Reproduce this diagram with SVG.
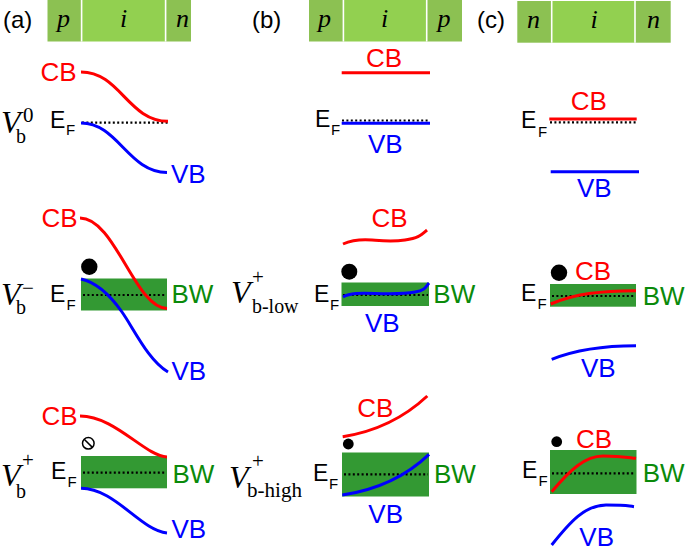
<svg xmlns="http://www.w3.org/2000/svg" width="685" height="548" viewBox="0 0 685 548">
<style>
.lab{font-family:"Liberation Sans",Arial,sans-serif;font-size:26px}
.cb{fill:#ff0000}.vb{fill:#0000ff}.bw{fill:#0a8a0a}
.e{font-family:"Liberation Sans",Arial,sans-serif;font-size:23px;fill:#000}
.f{font-family:"Liberation Sans",Arial,sans-serif;font-size:15px;fill:#000}
.pl{font-family:"Liberation Sans",Arial,sans-serif;font-size:24px;fill:#000}
.seg{font-family:"Liberation Serif","Times New Roman",serif;font-style:italic;font-size:26px;fill:#000;text-anchor:middle}
.v{font-family:"Liberation Serif","Times New Roman",serif;font-style:italic;font-size:32px;fill:#000}
.sub{font-family:"Liberation Serif","Times New Roman",serif;font-size:20px;fill:#000}
.sup{font-family:"Liberation Serif","Times New Roman",serif;font-size:21px;fill:#000}
.pn{fill:#8cc152}.ii{fill:#92d050}
.div{stroke:#fff;stroke-width:1.6}
.red{fill:none;stroke:#ff0000;stroke-width:3}
.blue{fill:none;stroke:#0000ff;stroke-width:3}
.dot{fill:none;stroke:#000;stroke-width:2.2;stroke-dasharray:2 2.4}
.well{fill:#339933}
</style>

<g id="bar-a">
<rect class="pn" x="47.5" y="0" width="34" height="41.5"/>
<rect class="ii" x="81.5" y="0" width="84" height="41.5"/>
<rect class="pn" x="165.5" y="0" width="25.5" height="41.5"/>
<line class="div" x1="81.6" y1="0" x2="81.6" y2="41.5"/>
<line class="div" x1="165.6" y1="0" x2="165.6" y2="41.5"/>
<text class="seg" x="63.5" y="27">p</text>
<text class="seg" x="123.5" y="27">i</text>
<text class="seg" x="182.5" y="27">n</text>
<text class="pl" x="3" y="28">(a)</text>
</g>

<g id="bar-b">
<rect class="pn" x="309" y="0" width="34.5" height="41.5"/>
<rect class="ii" x="343.5" y="0" width="83.2" height="41.5"/>
<rect class="pn" x="426.7" y="0" width="35.3" height="41.5"/>
<line class="div" x1="343.4" y1="0" x2="343.4" y2="41.5"/>
<line class="div" x1="426.7" y1="0" x2="426.7" y2="41.5"/>
<text class="seg" x="324.5" y="27">p</text>
<text class="seg" x="384.5" y="27">i</text>
<text class="seg" x="444" y="27">p</text>
<text class="pl" x="252" y="28">(b)</text>
</g>

<g id="bar-c">
<rect class="pn" x="517.3" y="1" width="34.4" height="41.7"/>
<rect class="ii" x="551.7" y="1" width="83.3" height="41.7"/>
<rect class="pn" x="635" y="1" width="35.7" height="41.7"/>
<line class="div" x1="551.7" y1="1" x2="551.7" y2="42.7"/>
<line class="div" x1="635" y1="1" x2="635" y2="42.7"/>
<text class="seg" x="533.5" y="28">n</text>
<text class="seg" x="594" y="28">i</text>
<text class="seg" x="653.5" y="28">n</text>
<text class="pl" x="477" y="28">(c)</text>
</g>

<g id="bias-labels">
<text class="v" x="1" y="133">V</text>
<text class="sup" x="23" y="121.5">0</text>
<text class="sub" x="16" y="143">b</text>
<text class="v" x="1" y="305">V</text>
<text class="sup" x="22" y="295">−</text>
<text class="sub" x="16" y="314">b</text>
<text class="v" x="1" y="486">V</text>
<text class="sup" x="22" y="466.5">+</text>
<text class="sub" x="16" y="498">b</text>
<text class="v" x="231" y="303">V</text>
<text class="sup" x="252" y="283.5">+</text>
<text class="sub" x="252" y="313" textLength="46.5" lengthAdjust="spacingAndGlyphs">b-low</text>
<text class="v" x="229" y="488">V</text>
<text class="sup" x="252" y="467.5">+</text>
<text class="sub" x="247" y="497" textLength="55" lengthAdjust="spacingAndGlyphs">b-high</text>
</g>

<g id="a1">
<line class="dot" x1="82" y1="122.7" x2="168" y2="122.7"/>
<path class="red" d="M81,72 C120,72 128,121 168,121.3"/>
<path class="blue" d="M81,123 C118,123 128,172 167,172.5"/>
<text class="lab cb" x="40.5" y="81">CB</text>
<text class="lab vb" x="171" y="183">VB</text>
<text class="e" x="50" y="128">E</text><text class="f" x="66" y="135">F</text>
</g>

<g id="a2">
<rect class="well" x="81" y="278.5" width="86" height="32"/>
<line class="dot" x1="83" y1="295" x2="166" y2="295"/>
<path class="red" d="M80,218 C115,218 135,308 167,308.5"/>
<path class="blue" d="M81,279 C95,282 110,295 122,312 S148,360 168,372"/>
<circle cx="89.3" cy="266.7" r="8.2" fill="#000"/>
<text class="lab cb" x="41.5" y="227">CB</text>
<text class="lab vb" x="171.5" y="380">VB</text>
<text class="lab bw" x="171.5" y="303">BW</text>
<text class="e" x="50" y="302">E</text><text class="f" x="66.5" y="310">F</text>
</g>

<g id="a3">
<rect class="well" x="81" y="456" width="86" height="32.3"/>
<line class="dot" x1="83" y1="472.7" x2="166" y2="472.7"/>
<path class="red" d="M80,416 C115,416 145,456 167,457"/>
<path class="blue" d="M81,488.3 C115,488.3 140,530 167,533"/>
<circle cx="88.3" cy="443.3" r="5.8" fill="none" stroke="#000" stroke-width="1.5"/>
<line x1="84.2" y1="439.2" x2="92.4" y2="447.4" stroke="#000" stroke-width="1.5"/>
<text class="lab cb" x="41.5" y="425">CB</text>
<text class="lab vb" x="171.5" y="538">VB</text>
<text class="lab bw" x="172.5" y="482.5">BW</text>
<text class="e" x="51" y="479">E</text><text class="f" x="67.5" y="487">F</text>
</g>

<g id="b1">
<line class="red" x1="341.7" y1="72.7" x2="430" y2="72.7"/>
<line class="dot" x1="342" y1="120.5" x2="430" y2="120.5"/>
<line class="blue" x1="341.7" y1="123.3" x2="430" y2="123.3"/>
<text class="lab cb" x="366" y="67">CB</text>
<text class="lab vb" x="368" y="153">VB</text>
<text class="e" x="315" y="127">E</text><text class="f" x="331" y="135">F</text>
</g>

<g id="b2">
<rect class="well" x="341.5" y="282.5" width="87.5" height="23.5"/>
<line class="dot" x1="343" y1="295" x2="428" y2="295"/>
<path class="red" d="M343,244 C352,240 360,239 372,240 S392,242 405,240 S420,236 427,230"/>
<path class="blue" d="M343,297 C350,293 360,293 375,293.5 S405,294 415,292 S425,288 429,283"/>
<circle cx="349.3" cy="271.7" r="8" fill="#000"/>
<text class="lab cb" x="371.5" y="227.3">CB</text>
<text class="lab vb" x="365" y="331.7">VB</text>
<text class="lab bw" x="433.3" y="303.3">BW</text>
<text class="e" x="314" y="302">E</text><text class="f" x="330" y="310">F</text>
</g>

<g id="b3">
<rect class="well" x="342" y="452.5" width="87" height="44"/>
<line class="dot" x1="344" y1="474.3" x2="428" y2="474.3"/>
<path class="red" d="M342.7,436.7 Q392,429 427.3,396"/>
<path class="blue" d="M342.3,495 Q395,487 429,454.3"/>
<circle cx="348.3" cy="444" r="5.4" fill="#000"/>
<text class="lab cb" x="357.3" y="417.3">CB</text>
<text class="lab vb" x="368.3" y="522.7">VB</text>
<text class="lab bw" x="434" y="482.7">BW</text>
<text class="e" x="313" y="481">E</text><text class="f" x="329" y="489">F</text>
</g>

<g id="c1">
<line class="dot" x1="550" y1="122.3" x2="636" y2="122.3"/>
<line class="red" x1="549.3" y1="119" x2="636.7" y2="119"/>
<line class="blue" x1="550.7" y1="171.7" x2="639" y2="171.7"/>
<text class="lab cb" x="570.7" y="110">CB</text>
<text class="lab vb" x="577" y="196.5">VB</text>
<text class="e" x="521" y="128">E</text><text class="f" x="538" y="137">F</text>
</g>

<g id="c2">
<rect class="well" x="550" y="284" width="86" height="22.7"/>
<line class="dot" x1="552" y1="296" x2="635" y2="296"/>
<path class="red" d="M550.7,304 C575,294 600,290.7 636,290.7"/>
<path class="blue" d="M551.7,359.3 C575,350 600,345.7 636,345.7"/>
<circle cx="559" cy="272.7" r="8.2" fill="#000"/>
<text class="lab cb" x="575" y="280">CB</text>
<text class="lab vb" x="581" y="377">VB</text>
<text class="lab bw" x="642.7" y="305">BW</text>
<text class="e" x="521" y="301">E</text><text class="f" x="537.5" y="309">F</text>
</g>

<g id="c3">
<rect class="well" x="550" y="450" width="86.5" height="44"/>
<line class="dot" x1="552" y1="473.3" x2="635" y2="473.3"/>
<path class="red" d="M551.7,491.7 C570,470 585,456 603,456 S625,457 636,458.3"/>
<path class="blue" d="M551.7,545 C570,522 585,505 606,505 S625,505.5 634,506.7"/>
<circle cx="556.7" cy="441.7" r="5.4" fill="#000"/>
<text class="lab cb" x="576" y="447.7">CB</text>
<text class="lab vb" x="579.3" y="545.5">VB</text>
<text class="lab bw" x="642.7" y="482.3">BW</text>
<text class="e" x="522" y="478">E</text><text class="f" x="538.5" y="486">F</text>
</g>
</svg>
